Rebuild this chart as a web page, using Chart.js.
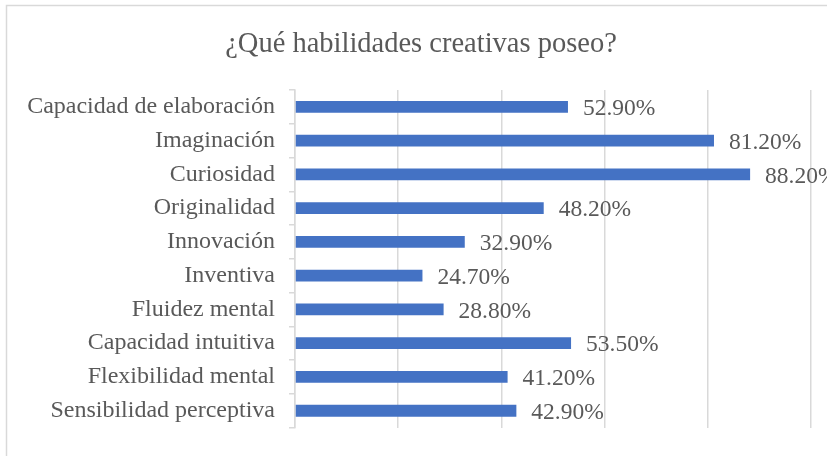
<!DOCTYPE html>
<html>
<head>
<meta charset="utf-8">
<script src="https://cdn.jsdelivr.net/npm/chart.js@4"></script>
<style>
  html, body { margin: 0; padding: 0; background: #ffffff; overflow: hidden; }
  #wrap { width: 827px; height: 456px; }
</style>
</head>
<body>
<div id="wrap"><canvas id="skillsChart" width="827" height="456"></canvas></div>
<script>
// Categories from top to bottom
const skills = [
  'Capacidad de elaboración',
  'Imaginación',
  'Curiosidad',
  'Originalidad',
  'Innovación',
  'Inventiva',
  'Fluidez mental',
  'Capacidad intuitiva',
  'Flexibilidad mental',
  'Sensibilidad perceptiva'
];

// Percent of answers for each skill
const percentages = [52.9, 81.2, 88.2, 48.2, 32.9, 24.7, 28.8, 53.5, 41.2, 42.9];

const chartTitle = '¿Qué habilidades creativas poseo?';

const textColor = '#595959';
const gridColor = '#d9d9d9';
const serif = "'Liberation Serif', 'Times New Roman', serif";

// Light frame around the whole chart, plus the heading
// (the frame runs past the right edge, so the heading sits a bit right of the canvas centre)
const framePlugin = {
  id: 'frame',
  beforeDraw(chart) {
    const ctx = chart.ctx;
    ctx.save();
    ctx.fillStyle = '#ffffff';
    ctx.fillRect(0, 0, chart.width, chart.height);
    ctx.strokeStyle = gridColor;
    ctx.lineWidth = 1.5;
    ctx.strokeRect(6.5, 5.5, 1000, 1000);
    ctx.font = '28.5px ' + serif;
    ctx.fillStyle = textColor;
    ctx.textAlign = 'center';
    ctx.textBaseline = 'middle';
    ctx.fillText(chartTitle, 421, 45);
    ctx.restore();
  }
};

// Percent text next to the end of each bar
const valueLabels = {
  id: 'valueLabels',
  afterDatasetsDraw(chart) {
    const ctx = chart.ctx;
    const meta = chart.getDatasetMeta(0);
    ctx.save();
    ctx.font = '23.5px ' + serif;
    ctx.fillStyle = textColor;
    ctx.textAlign = 'left';
    ctx.textBaseline = 'middle';
    meta.data.forEach((bar, i) => {
      const txt = percentages[i].toFixed(2) + '%';
      ctx.fillText(txt, bar.x + 15, bar.y + 2);
    });
    ctx.restore();
  }
};

const ctx = document.getElementById('skillsChart').getContext('2d');

new Chart(ctx, {
  type: 'bar',
  data: {
    labels: skills,
    datasets: [{
      data: percentages,
      backgroundColor: '#4472c4',
      borderWidth: 0,
      barPercentage: 0.7,
      categoryPercentage: 0.5
    }]
  },
  options: {
    indexAxis: 'y',
    responsive: false,
    animation: false,
    layout: {
      padding: { top: 90, right: 16, bottom: 26, left: 0 }
    },
    plugins: {
      legend: { display: false },
      tooltip: { enabled: false },
      title: { display: false }
    },
    scales: {
      x: {
        min: 0,
        max: 100,
        ticks: { display: false, stepSize: 20 },
        grid: { color: gridColor, lineWidth: 1.5, drawTicks: false },
        border: { display: false },
        afterFit(scale) { scale.height = 0; }
      },
      y: {
        ticks: {
          color: textColor,
          font: { family: serif, size: 24 },
          padding: 14
        },
        grid: {
          drawOnChartArea: false,
          drawTicks: true,
          tickLength: 6,
          color: gridColor,
          lineWidth: 1.5
        },
        border: { display: true, color: gridColor, width: 1.5 },
        afterFit(scale) { scale.width = 295; }
      }
    }
  },
  plugins: [framePlugin, valueLabels]
});
</script>
</body>
</html>
